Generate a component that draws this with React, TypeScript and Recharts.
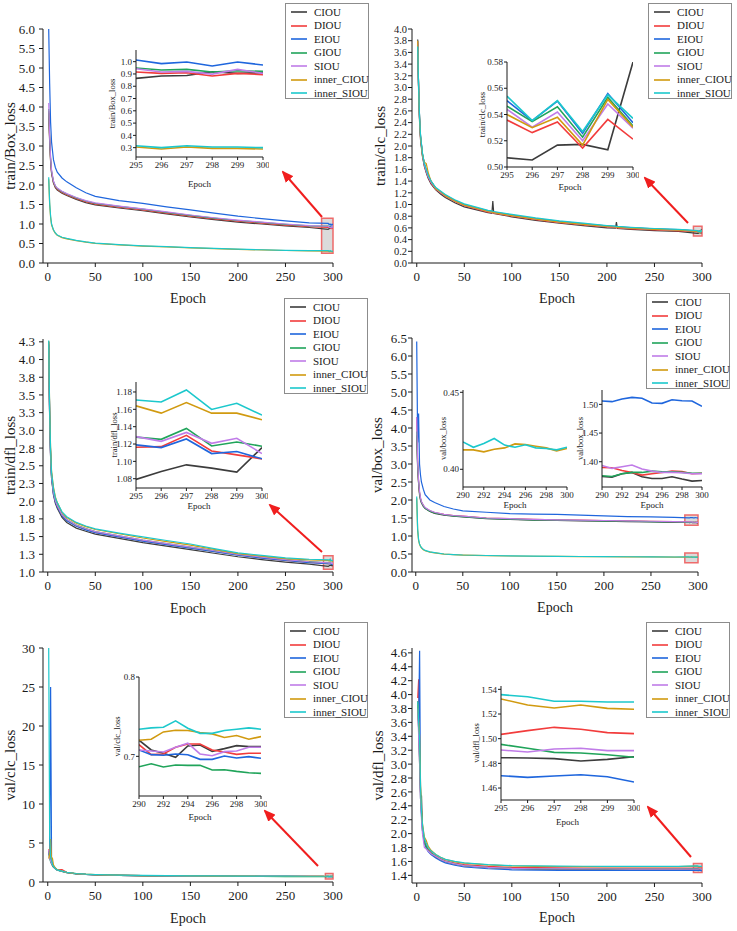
import { LineChart, Line, XAxis, YAxis, ReferenceArea, Label } from "recharts"

const FONT = "'Liberation Serif', 'DejaVu Serif', 'Times New Roman', serif"
const INK = "#1a1a1a"

const lossNames = ["CIOU", "DIOU", "EIOU", "GIOU", "SIOU", "inner_CIOU", "inner_SIOU"]
const lossColors = ["#3c3c3c", "#f23c3c", "#1f66dd", "#20a45a", "#c07ce8", "#d19a10", "#1cc8cc"]

// train/Box_loss
const trainBoxEpochs = [1, 2, 3, 4, 6, 8, 10, 15, 20, 30, 40, 50, 75, 100, 125, 150, 175, 200, 225, 250, 275, 295, 296, 297, 298, 299, 300]
const trainBoxCIOU = [3.85, 3.1, 2.6, 2.3, 2.05, 1.93, 1.87, 1.79, 1.73, 1.63, 1.55, 1.49, 1.41, 1.34, 1.26, 1.18, 1.11, 1.05, 1.0, 0.95, 0.91, 0.864, 0.883, 0.888, 0.918, 0.905, 0.91]
const trainBoxDIOU = [3.9, 3.15, 2.63, 2.33, 2.07, 1.95, 1.89, 1.81, 1.75, 1.65, 1.57, 1.51, 1.43, 1.36, 1.28, 1.2, 1.13, 1.07, 1.02, 0.97, 0.93, 0.916, 0.905, 0.91, 0.883, 0.905, 0.894]
const trainBoxEIOU = [6.0, 4.6, 3.6, 3.1, 2.65, 2.45, 2.33, 2.18, 2.08, 1.93, 1.8, 1.71, 1.6, 1.53, 1.44, 1.36, 1.28, 1.2, 1.14, 1.08, 1.03, 1.014, 0.984, 0.997, 0.965, 0.997, 0.973]
const trainBoxGIOU = [3.95, 3.2, 2.66, 2.35, 2.09, 1.97, 1.91, 1.83, 1.77, 1.67, 1.59, 1.53, 1.45, 1.38, 1.3, 1.22, 1.15, 1.09, 1.04, 0.99, 0.95, 0.948, 0.932, 0.937, 0.916, 0.926, 0.921]
const trainBoxSIOU = [4.1, 3.25, 2.7, 2.38, 2.1, 1.98, 1.92, 1.84, 1.78, 1.68, 1.6, 1.54, 1.46, 1.39, 1.31, 1.23, 1.16, 1.1, 1.05, 1.0, 0.96, 0.943, 0.916, 0.921, 0.899, 0.937, 0.905]
const trainBoxInnerCIOU = [2.15, 1.5, 1.17, 0.98, 0.84, 0.76, 0.71, 0.65, 0.62, 0.57, 0.535, 0.505, 0.465, 0.435, 0.415, 0.39, 0.37, 0.35, 0.335, 0.32, 0.31, 0.305, 0.289, 0.305, 0.294, 0.294, 0.289]
const trainBoxInnerSIOU = [2.2, 1.55, 1.2, 1.0, 0.85, 0.77, 0.72, 0.66, 0.63, 0.58, 0.54, 0.51, 0.47, 0.44, 0.42, 0.395, 0.375, 0.355, 0.34, 0.325, 0.315, 0.316, 0.3, 0.316, 0.305, 0.305, 0.3]

// train/clc_loss
const trainClsEpochs = [1, 2, 3, 4, 6, 8, 10, 12, 15, 20, 25, 30, 40, 50, 75, 79, 80, 81, 100, 125, 150, 175, 200, 209, 210, 211, 225, 250, 275, 295, 296, 297, 298, 299, 300]
const trainClsCIOU = [3.82, 2.9, 2.4, 2.1, 1.82, 1.65, 1.54, 1.45, 1.35, 1.25, 1.18, 1.12, 1.03, 0.96, 0.86, 0.85, 1.06, 0.845, 0.79, 0.73, 0.68, 0.64, 0.6, 0.595, 0.7, 0.59, 0.575, 0.555, 0.54, 0.507, 0.5053, 0.5167, 0.5172, 0.5131, 0.58]
const trainClsDIOU = [3.78, 2.93, 2.43, 2.13, 1.84, 1.67, 1.56, 1.47, 1.37, 1.26, 1.2, 1.14, 1.05, 0.98, 0.87, 0.86, 0.855, 0.85, 0.8, 0.74, 0.69, 0.65, 0.615, 0.605, 0.602, 0.6, 0.585, 0.565, 0.55, 0.5358, 0.5262, 0.5343, 0.5144, 0.5363, 0.5212]
const trainClsEIOU = [3.75, 2.97, 2.47, 2.17, 1.87, 1.7, 1.59, 1.5, 1.4, 1.28, 1.22, 1.16, 1.07, 1.0, 0.89, 0.88, 0.875, 0.87, 0.82, 0.76, 0.71, 0.67, 0.635, 0.625, 0.622, 0.62, 0.605, 0.585, 0.57, 0.5505, 0.5353, 0.5502, 0.5257, 0.556, 0.5338]
const trainClsGIOU = [3.8, 2.96, 2.46, 2.16, 1.86, 1.69, 1.58, 1.49, 1.39, 1.275, 1.215, 1.155, 1.065, 0.995, 0.885, 0.875, 0.87, 0.865, 0.815, 0.755, 0.705, 0.665, 0.63, 0.62, 0.617, 0.615, 0.6, 0.58, 0.565, 0.5464, 0.5346, 0.5459, 0.5227, 0.553, 0.5313]
const trainClsSIOU = [3.8, 2.95, 2.45, 2.15, 1.85, 1.68, 1.57, 1.48, 1.38, 1.27, 1.21, 1.15, 1.06, 0.99, 0.88, 0.87, 0.865, 0.86, 0.81, 0.75, 0.7, 0.66, 0.625, 0.615, 0.612, 0.61, 0.595, 0.575, 0.56, 0.5439, 0.5303, 0.5419, 0.52, 0.548, 0.5295]
const trainClsInnerCIOU = [3.8, 2.95, 2.45, 2.15, 1.85, 1.72, 1.7, 1.55, 1.4, 1.27, 1.22, 1.15, 1.06, 0.99, 0.88, 0.87, 0.865, 0.86, 0.81, 0.75, 0.7, 0.66, 0.625, 0.615, 0.612, 0.61, 0.595, 0.575, 0.56, 0.54, 0.53, 0.5379, 0.5167, 0.5515, 0.5303]
const trainClsInnerSIOU = [3.7, 2.97, 2.48, 2.18, 1.88, 1.7, 1.6, 1.5, 1.4, 1.29, 1.23, 1.17, 1.08, 1.01, 0.9, 0.89, 0.885, 0.88, 0.83, 0.77, 0.72, 0.68, 0.64, 0.63, 0.627, 0.625, 0.61, 0.59, 0.575, 0.554, 0.5353, 0.5505, 0.527, 0.555, 0.537]

// train/dfl_loss
const trainDflEpochs = [1, 2, 3, 4, 6, 8, 10, 15, 20, 30, 40, 50, 75, 100, 125, 150, 175, 200, 225, 250, 275, 295, 296, 297, 298, 299, 300]
const trainDflCIOU = [4.2, 3.15, 2.62, 2.32, 2.09, 1.97, 1.9, 1.77, 1.7, 1.62, 1.575, 1.535, 1.475, 1.415, 1.365, 1.315, 1.265, 1.215, 1.175, 1.14, 1.11, 1.0792, 1.0884, 1.096, 1.0922, 1.0876, 1.1159]
const trainDflDIOU = [4.25, 3.2, 2.65, 2.35, 2.12, 2.0, 1.93, 1.8, 1.73, 1.65, 1.6, 1.56, 1.5, 1.44, 1.39, 1.34, 1.29, 1.24, 1.2, 1.165, 1.135, 1.1163, 1.117, 1.13, 1.112, 1.1075, 1.1029]
const trainDflEIOU = [4.22, 3.18, 2.63, 2.33, 2.1, 1.99, 1.92, 1.795, 1.725, 1.645, 1.595, 1.555, 1.497, 1.437, 1.387, 1.337, 1.287, 1.237, 1.197, 1.162, 1.132, 1.119, 1.1159, 1.1258, 1.109, 1.1113, 1.1029]
const trainDflGIOU = [4.25, 3.22, 2.67, 2.37, 2.14, 2.02, 1.945, 1.812, 1.742, 1.662, 1.612, 1.572, 1.512, 1.452, 1.402, 1.352, 1.302, 1.252, 1.212, 1.177, 1.147, 1.128, 1.1254, 1.138, 1.1178, 1.1224, 1.1174]
const trainDflSIOU = [4.24, 3.2, 2.66, 2.36, 2.13, 2.01, 1.94, 1.81, 1.74, 1.66, 1.61, 1.57, 1.51, 1.45, 1.4, 1.35, 1.3, 1.25, 1.21, 1.175, 1.145, 1.1285, 1.1231, 1.1334, 1.1208, 1.1266, 1.109]
const trainDflInnerCIOU = [4.26, 3.3, 2.75, 2.42, 2.2, 2.06, 1.98, 1.84, 1.77, 1.69, 1.64, 1.6, 1.54, 1.48, 1.43, 1.38, 1.32, 1.26, 1.225, 1.19, 1.17, 1.164, 1.1556, 1.1678, 1.1556, 1.1556, 1.148]
const trainDflInnerSIOU = [4.27, 3.28, 2.72, 2.4, 2.18, 2.05, 1.98, 1.85, 1.78, 1.7, 1.65, 1.61, 1.55, 1.495, 1.445, 1.395, 1.33, 1.27, 1.235, 1.2, 1.18, 1.1708, 1.1685, 1.1823, 1.1598, 1.167, 1.1533]

// val/box_loss
const valBoxEpochs = [1, 2, 3, 4, 5, 6, 8, 10, 15, 20, 30, 40, 50, 75, 100, 125, 150, 175, 200, 225, 250, 275, 290, 291, 292, 293, 294, 295, 296, 297, 298, 299, 300]
const valBoxCIOU = [3.8, 2.9, 2.45, 2.15, 2.0, 1.92, 1.82, 1.76, 1.68, 1.63, 1.58, 1.55, 1.53, 1.48, 1.46, 1.44, 1.43, 1.42, 1.41, 1.4, 1.39, 1.38, 1.3744, 1.3733, 1.379, 1.3814, 1.3738, 1.3709, 1.3709, 1.3738, 1.3698, 1.3663, 1.3674]
const valBoxDIOU = [4.3, 3.0, 2.5, 2.2, 2.05, 1.95, 1.85, 1.78, 1.7, 1.65, 1.6, 1.57, 1.55, 1.5, 1.48, 1.46, 1.45, 1.44, 1.43, 1.42, 1.41, 1.4, 1.3901, 1.3895, 1.3849, 1.3814, 1.3767, 1.379, 1.3814, 1.3837, 1.383, 1.379, 1.38]
const valBoxEIOU = [6.4, 3.6, 4.4, 3.0, 2.7, 2.5, 2.3, 2.15, 2.0, 1.93, 1.82, 1.75, 1.7, 1.66, 1.62, 1.61, 1.6, 1.58, 1.56, 1.54, 1.53, 1.515, 1.5058, 1.5047, 1.5093, 1.5122, 1.5105, 1.5023, 1.5017, 1.5081, 1.5064, 1.5058, 1.4965]
const valBoxGIOU = [3.9, 2.95, 2.5, 2.2, 2.03, 1.94, 1.84, 1.77, 1.69, 1.64, 1.59, 1.56, 1.54, 1.49, 1.47, 1.45, 1.44, 1.43, 1.42, 1.41, 1.4, 1.39, 1.3756, 1.3744, 1.379, 1.3814, 1.3814, 1.3837, 1.3826, 1.3826, 1.3814, 1.38, 1.38]
const valBoxSIOU = [4.3, 3.05, 2.55, 2.25, 2.07, 1.96, 1.86, 1.79, 1.71, 1.66, 1.6, 1.57, 1.55, 1.5, 1.48, 1.46, 1.45, 1.44, 1.43, 1.42, 1.41, 1.4, 1.3936, 1.3884, 1.3913, 1.3942, 1.3872, 1.3837, 1.3814, 1.3814, 1.3808, 1.3791, 1.3791]
const valBoxInnerCIOU = [2.05, 1.15, 0.88, 0.77, 0.71, 0.67, 0.62, 0.59, 0.55, 0.53, 0.495, 0.48, 0.47, 0.455, 0.445, 0.437, 0.432, 0.428, 0.425, 0.421, 0.418, 0.415, 0.4126, 0.4126, 0.4113, 0.413, 0.4139, 0.4165, 0.4161, 0.415, 0.4139, 0.412, 0.4135]
const valBoxInnerSIOU = [2.1, 1.2, 0.9, 0.78, 0.72, 0.68, 0.63, 0.6, 0.56, 0.54, 0.5, 0.485, 0.472, 0.458, 0.448, 0.44, 0.435, 0.43, 0.427, 0.423, 0.42, 0.417, 0.4178, 0.4143, 0.4167, 0.42, 0.4157, 0.4143, 0.4159, 0.4139, 0.4135, 0.4126, 0.4143]

// val/clc_loss
const valClsEpochs = [1, 2, 3, 4, 5, 6, 8, 10, 15, 20, 30, 40, 50, 75, 100, 125, 150, 175, 200, 225, 250, 275, 290, 291, 292, 293, 294, 295, 296, 297, 298, 299, 300]
const valClsCIOU = [4.0, 3.2, 2.8, 2.5, 2.2, 2.0, 1.75, 1.55, 1.38, 1.22, 1.06, 0.98, 0.93, 0.86, 0.81, 0.78, 0.76, 0.745, 0.735, 0.725, 0.72, 0.715, 0.7203, 0.708, 0.7038, 0.6987, 0.7131, 0.7143, 0.7063, 0.7097, 0.7135, 0.7122, 0.7122]
const valClsDIOU = [4.2, 3.3, 2.9, 2.4, 2.1, 1.9, 1.7, 1.55, 1.6, 1.25, 1.06, 0.98, 0.93, 0.86, 0.81, 0.78, 0.76, 0.745, 0.735, 0.725, 0.72, 0.715, 0.7148, 0.7021, 0.703, 0.7114, 0.7156, 0.7156, 0.708, 0.7055, 0.7025, 0.7038, 0.7038]
const valClsEIOU = [3.5, 4.0, 25.0, 3.0, 2.3, 2.0, 1.72, 1.53, 1.37, 1.21, 1.05, 0.97, 0.92, 0.85, 0.8, 0.775, 0.755, 0.74, 0.728, 0.718, 0.712, 0.708, 0.708, 0.7021, 0.7013, 0.703, 0.7021, 0.6962, 0.6962, 0.7004, 0.6979, 0.6996, 0.6975]
const valClsGIOU = [3.8, 3.0, 2.6, 2.3, 2.1, 1.9, 1.7, 1.5, 1.35, 1.2, 1.04, 0.96, 0.91, 0.84, 0.79, 0.765, 0.745, 0.728, 0.716, 0.705, 0.698, 0.692, 0.6869, 0.6907, 0.6865, 0.689, 0.6886, 0.6886, 0.6827, 0.6831, 0.681, 0.6793, 0.6785]
const valClsSIOU = [4.1, 3.1, 2.7, 2.4, 2.2, 2.0, 1.72, 1.54, 1.38, 1.22, 1.06, 0.98, 0.93, 0.86, 0.81, 0.78, 0.76, 0.745, 0.733, 0.723, 0.717, 0.712, 0.708, 0.7068, 0.7055, 0.7114, 0.7165, 0.703, 0.7008, 0.7059, 0.7068, 0.7114, 0.7114]
const valClsInnerCIOU = [3.0, 3.5, 5.5, 2.8, 3.0, 2.2, 1.8, 1.58, 1.4, 1.24, 1.08, 1.0, 0.95, 0.88, 0.83, 0.8, 0.78, 0.765, 0.75, 0.74, 0.733, 0.727, 0.7203, 0.7215, 0.7308, 0.7329, 0.7325, 0.73, 0.7283, 0.7237, 0.7262, 0.7215, 0.7249]
const valClsInnerSIOU = [30.0, 6.0, 3.2, 2.8, 2.2, 2.0, 1.7, 1.55, 1.4, 1.25, 1.09, 1.01, 0.96, 0.89, 0.84, 0.81, 0.79, 0.775, 0.76, 0.75, 0.743, 0.738, 0.7342, 0.7359, 0.7367, 0.7447, 0.7354, 0.729, 0.729, 0.7325, 0.7342, 0.7359, 0.7342]

// val/dfl_loss
const valDflEpochs = [1, 2, 3, 4, 5, 6, 8, 10, 12, 15, 20, 25, 30, 40, 50, 75, 100, 125, 150, 175, 200, 225, 250, 275, 295, 296, 297, 298, 299, 300]
const valDflCIOU = [3.9, 3.5, 3.0, 2.5, 2.55, 2.05, 1.88, 1.81, 1.76, 1.71, 1.66, 1.62, 1.595, 1.56, 1.535, 1.51, 1.495, 1.49, 1.487, 1.486, 1.486, 1.485, 1.485, 1.485, 1.4846, 1.4843, 1.4838, 1.4819, 1.4832, 1.4854]
const valDflDIOU = [3.95, 4.22, 3.2, 2.6, 2.3, 2.1, 1.9, 1.83, 1.78, 1.73, 1.68, 1.64, 1.61, 1.578, 1.555, 1.53, 1.515, 1.51, 1.507, 1.506, 1.505, 1.505, 1.505, 1.505, 1.5035, 1.5065, 1.5092, 1.5076, 1.5049, 1.5041]
const valDflEIOU = [3.9, 3.6, 4.63, 2.5, 2.25, 2.05, 1.86, 1.79, 1.74, 1.7, 1.65, 1.61, 1.58, 1.545, 1.52, 1.495, 1.48, 1.475, 1.472, 1.471, 1.47, 1.47, 1.47, 1.47, 1.47, 1.4686, 1.4697, 1.4708, 1.4692, 1.4649]
const valDflGIOU = [3.85, 3.5, 3.1, 2.6, 2.3, 2.08, 1.88, 1.81, 1.76, 1.72, 1.67, 1.63, 1.6, 1.565, 1.54, 1.515, 1.5, 1.495, 1.493, 1.492, 1.49, 1.49, 1.49, 1.49, 1.4954, 1.4922, 1.4889, 1.4884, 1.487, 1.4849]
const valDflSIOU = [3.8, 3.4, 3.0, 2.5, 2.2, 2.0, 1.8, 1.78, 1.75, 1.71, 1.67, 1.63, 1.6, 1.565, 1.54, 1.515, 1.5, 1.495, 1.493, 1.492, 1.491, 1.491, 1.491, 1.491, 1.4908, 1.4892, 1.4916, 1.4922, 1.4903, 1.4903]
const valDflInnerCIOU = [3.9, 3.6, 3.4, 2.7, 2.35, 2.15, 1.95, 1.9, 1.82, 1.76, 1.7, 1.66, 1.63, 1.595, 1.575, 1.55, 1.535, 1.53, 1.527, 1.526, 1.525, 1.525, 1.525, 1.525, 1.5322, 1.5273, 1.5249, 1.5273, 1.5246, 1.5238]
const valDflInnerSIOU = [3.9, 3.6, 3.35, 2.65, 2.33, 2.13, 1.93, 1.86, 1.8, 1.75, 1.7, 1.66, 1.63, 1.6, 1.58, 1.555, 1.54, 1.535, 1.532, 1.531, 1.53, 1.53, 1.53, 1.53, 1.5357, 1.534, 1.5303, 1.5303, 1.5297, 1.5297]

// tick labels
const epochTicks = [0, 50, 100, 150, 200, 250, 300]
const lastSixTicks = [295, 296, 297, 298, 299, 300]
const lastElevenTicks = [290, 292, 294, 296, 298, 300]
const trainBoxTicks = [0, 0.5, 1, 1.5, 2, 2.5, 3, 3.5, 4, 4.5, 5, 5.5, 6]
const trainClsTicks = [0, 0.2, 0.4, 0.6, 0.8, 1, 1.2, 1.4, 1.6, 1.8, 2, 2.2, 2.4, 2.6, 2.8, 3, 3.2, 3.4, 3.6, 3.8, 4]
const trainDflTicks = [1, 1.25, 1.5, 1.75, 2, 2.25, 2.5, 2.75, 3, 3.25, 3.5, 3.75, 4, 4.25]
const valBoxTicks = [0, 0.5, 1, 1.5, 2, 2.5, 3, 3.5, 4, 4.5, 5, 5.5, 6, 6.5]
const valClsTicks = [0, 5, 10, 15, 20, 25, 30]
const valDflTicks = [1.4, 1.6, 1.8, 2, 2.2, 2.4, 2.6, 2.8, 3, 3.2, 3.4, 3.6, 3.8, 4, 4.2, 4.4, 4.6]
const trainBoxZoomTicks = [0.3, 0.4, 0.5, 0.6, 0.7, 0.8, 0.9, 1.0]
const trainClsZoomTicks = [0.5, 0.52, 0.54, 0.56, 0.58]
const trainDflZoomTicks = [1.08, 1.1, 1.12, 1.14, 1.16, 1.18]
const valBoxInnerZoomTicks = [0.4, 0.45]
const valBoxZoomTicks = [1.4, 1.45, 1.5]
const valClsZoomTicks = [0.7, 0.8]
const valDflZoomTicks = [1.46, 1.48, 1.5, 1.52, 1.54]

type Row = Record<string, number>

function toRows(epochs: number[], series: number[][]): Row[] {
  return epochs.map((epoch, i) => {
    const row: Row = { epoch }
    lossNames.forEach((name, k) => {
      row[name] = series[k][i]
    })
    return row
  })
}

const trainBoxRows = toRows(trainBoxEpochs, [trainBoxCIOU, trainBoxDIOU, trainBoxEIOU, trainBoxGIOU, trainBoxSIOU, trainBoxInnerCIOU, trainBoxInnerSIOU])
const trainClsRows = toRows(trainClsEpochs, [trainClsCIOU, trainClsDIOU, trainClsEIOU, trainClsGIOU, trainClsSIOU, trainClsInnerCIOU, trainClsInnerSIOU])
const trainDflRows = toRows(trainDflEpochs, [trainDflCIOU, trainDflDIOU, trainDflEIOU, trainDflGIOU, trainDflSIOU, trainDflInnerCIOU, trainDflInnerSIOU])
const valBoxRows = toRows(valBoxEpochs, [valBoxCIOU, valBoxDIOU, valBoxEIOU, valBoxGIOU, valBoxSIOU, valBoxInnerCIOU, valBoxInnerSIOU])
const valClsRows = toRows(valClsEpochs, [valClsCIOU, valClsDIOU, valClsEIOU, valClsGIOU, valClsSIOU, valClsInnerCIOU, valClsInnerSIOU])
const valDflRows = toRows(valDflEpochs, [valDflCIOU, valDflDIOU, valDflEIOU, valDflGIOU, valDflSIOU, valDflInnerCIOU, valDflInnerSIOU])

const tail = (rows: Row[], from: number) => rows.filter((r) => r.epoch >= from)

type Rect = { x: number; y: number; w: number; h: number }
type Box = { x1: number; x2: number; y1: number; y2: number }

type FrameProps = {
  outer: Rect
  plot: Rect
  rows: Row[]
  xDomain: [number, number]
  xTicks: number[]
  yDomain: [number, number]
  yTicks: number[]
  digits: number
  yTitle: string
  yTitleX: number
  xTitleBase: number
  inset?: boolean
  names?: string[]
  boxes?: Box[]
  yTickMargin?: number
  yTickSize?: number
}

// one set of axes; plot rect is in page pixels, the chart margins are derived from it
function Frame(p: FrameProps) {
  const { outer, plot, inset } = p
  const margin = {
    top: plot.y - outer.y,
    right: outer.x + outer.w - plot.x - plot.w,
    bottom: 0,
    left: 0,
  }
  const axisW = plot.x - outer.x
  const axisH = outer.y + outer.h - plot.y - plot.h
  const fontSize = inset ? 9 : 13
  const tick = { fill: INK, fontSize, fontFamily: FONT }
  const yTick = { ...tick, fontSize: p.yTickSize ?? fontSize }
  const stroke = { stroke: INK, strokeWidth: 1 }
  const shown = p.names ?? lossNames
  return (
    <div style={{ position: "absolute", left: outer.x, top: outer.y }}>
      <LineChart width={outer.w} height={outer.h} data={p.rows} margin={margin}>
        <XAxis
          dataKey="epoch"
          type="number"
          domain={p.xDomain}
          ticks={p.xTicks}
          interval={0}
          allowDataOverflow
          height={axisH}
          tick={tick}
          axisLine={stroke}
          tickLine={stroke}
          tickSize={inset ? 3 : 4}
          tickMargin={inset ? 2 : 5}
        >
          <Label
            value="Epoch"
            position="insideBottom"
            offset={outer.y + outer.h - p.xTitleBase}
            style={{ fontSize: inset ? 9 : 14, fontFamily: FONT, fill: INK }}
          />
        </XAxis>
        <YAxis
          type="number"
          domain={p.yDomain}
          ticks={p.yTicks}
          interval={0}
          allowDataOverflow
          width={axisW}
          tick={yTick}
          tickFormatter={(v: number) => v.toFixed(p.digits)}
          axisLine={stroke}
          tickLine={stroke}
          tickSize={inset ? 3 : 4}
          tickMargin={p.yTickMargin ?? (inset ? 1 : 4)}
        >
          <Label
            value={p.yTitle}
            angle={-90}
            position="insideLeft"
            offset={p.yTitleX - outer.x}
            style={{ textAnchor: "middle", fontSize: inset ? 8.5 : 15, fontFamily: FONT, fill: INK }}
          />
        </YAxis>
        {lossNames.map((name, k) =>
          shown.includes(name) ? (
            <Line
              key={name}
              dataKey={name}
              type="linear"
              stroke={lossColors[k]}
              strokeWidth={inset ? 1.6 : 1.2}
              dot={false}
              isAnimationActive={false}
            />
          ) : null
        )}
        {(p.boxes ?? []).map((b, i) => (
          <ReferenceArea
            key={i}
            x1={b.x1}
            x2={b.x2}
            y1={b.y1}
            y2={b.y2}
            fill="#bdbdbd"
            fillOpacity={0.55}
            stroke="#ee6b6b"
            strokeWidth={1.5}
          />
        ))}
      </LineChart>
    </div>
  )
}

function LossLegend({ x, y }: { x: number; y: number }) {
  return (
    <div
      style={{
        position: "absolute",
        left: x,
        top: y,
        width: 84,
        height: 96,
        boxSizing: "border-box",
        border: "1px solid #8c8c8c",
        background: "#fff",
        paddingTop: 1.5,
      }}
    >
      {lossNames.map((name, k) => (
        <div key={name} style={{ display: "flex", alignItems: "center", height: 13.5 }}>
          <svg width={16} height={4} style={{ marginLeft: 5, marginRight: 7, flex: "none" }}>
            <line x1={0} y1={2} x2={16} y2={2} stroke={lossColors[k]} strokeWidth={1.6} />
          </svg>
          <span style={{ fontSize: 11, lineHeight: "13.5px", color: "#222", fontFamily: FONT }}>{name}</span>
        </div>
      ))}
    </div>
  )
}

const pointers = [
  { from: [322, 217], to: [283, 172] },
  { from: [688, 223], to: [645, 178] },
  { from: [322, 552], to: [270, 505] },
  { from: [318, 866], to: [265, 811] },
  { from: [691, 857], to: [648, 807] },
]

function Pointers() {
  return (
    <svg width={737} height={931} style={{ position: "absolute", left: 0, top: 0, pointerEvents: "none" }}>
      <defs>
        <marker id="head" markerWidth="12" markerHeight="10" refX="10" refY="5" orient="auto" markerUnits="userSpaceOnUse">
          <path d="M0,0 L12,5 L0,10 z" fill="#f01e1e" />
        </marker>
      </defs>
      {pointers.map((a, i) => (
        <line
          key={i}
          x1={a.from[0]}
          y1={a.from[1]}
          x2={a.to[0]}
          y2={a.to[1]}
          stroke="#f01e1e"
          strokeWidth={2}
          markerEnd="url(#head)"
        />
      ))}
    </svg>
  )
}

export default function App() {
  return (
    <div
      style={{
        position: "absolute",
        left: 0,
        top: 0,
        width: 737,
        height: 931,
        background: "#fff",
        overflow: "hidden",
        fontFamily: FONT,
      }}
    >
      {/* train/Box_loss */}
      <Frame
        outer={{ x: 0, y: 0, w: 370, h: 305 }}
        plot={{ x: 43, y: 29, w: 290, h: 234 }}
        rows={trainBoxRows}
        xDomain={[-5, 300]}
        xTicks={epochTicks}
        yDomain={[0, 6]}
        yTicks={trainBoxTicks}
        digits={1}
        yTitle="train/Box_loss"
        yTitleX={10}
        xTitleBase={303}
        boxes={[{ x1: 288, x2: 300, y1: 0.25, y2: 1.15 }]}
      />
      <Frame
        inset
        outer={{ x: 105, y: 45, w: 164, h: 145 }}
        plot={{ x: 136, y: 50, w: 127, h: 107 }}
        rows={tail(trainBoxRows, 295)}
        xDomain={[295, 300]}
        xTicks={lastSixTicks}
        yDomain={[0.224, 1.095]}
        yTicks={trainBoxZoomTicks}
        digits={1}
        yTitle="train/Box_loss"
        yTitleX={112}
        xTitleBase={187}
      />
      <LossLegend x={285} y={3} />

      {/* train/clc_loss — ticks every 0.2 sit close together, so a smaller face */}
      <Frame
        outer={{ x: 370, y: 0, w: 367, h: 305 }}
        plot={{ x: 412, y: 29, w: 290, h: 234 }}
        rows={trainClsRows}
        xDomain={[-5, 300]}
        xTicks={epochTicks}
        yDomain={[0, 4]}
        yTicks={trainClsTicks}
        digits={1}
        yTitle="train/clc_loss"
        yTitleX={380}
        xTitleBase={303}
        yTickMargin={1}
        yTickSize={10.5}
        boxes={[{ x1: 291, x2: 300, y1: 0.46, y2: 0.63 }]}
      />
      <Frame
        inset
        outer={{ x: 476, y: 56, w: 163, h: 140 }}
        plot={{ x: 507, y: 62, w: 126, h: 105 }}
        rows={tail(trainClsRows, 295)}
        xDomain={[295, 300]}
        xTicks={lastSixTicks}
        yDomain={[0.5, 0.58]}
        yTicks={trainClsZoomTicks}
        digits={2}
        yTitle="train/clc_loss"
        yTitleX={482}
        xTitleBase={190}
      />
      <LossLegend x={648} y={3} />

      {/* train/dfl_loss */}
      <Frame
        outer={{ x: 0, y: 310, w: 370, h: 305 }}
        plot={{ x: 43, y: 339, w: 290, h: 233 }}
        rows={trainDflRows}
        xDomain={[-5, 300]}
        xTicks={epochTicks}
        yDomain={[1, 4.29]}
        yTicks={trainDflTicks}
        digits={1}
        yTitle="train/dfl_loss"
        yTitleX={10}
        xTitleBase={613}
        boxes={[{ x1: 290, x2: 300, y1: 1.04, y2: 1.23 }]}
      />
      <Frame
        inset
        outer={{ x: 108, y: 376, w: 160, h: 136 }}
        plot={{ x: 136, y: 382, w: 126, h: 106 }}
        rows={tail(trainDflRows, 295)}
        xDomain={[295, 300]}
        xTicks={lastSixTicks}
        yDomain={[1.0693, 1.1915]}
        yTicks={trainDflZoomTicks}
        digits={2}
        yTitle="train/dfl_loss"
        yTitleX={114}
        xTitleBase={509}
      />
      <LossLegend x={284} y={298} />

      {/* val/box_loss */}
      <Frame
        outer={{ x: 370, y: 310, w: 367, h: 305 }}
        plot={{ x: 412, y: 338, w: 286, h: 234 }}
        rows={valBoxRows}
        xDomain={[-4, 300]}
        xTicks={epochTicks}
        yDomain={[0, 6.5]}
        yTicks={valBoxTicks}
        digits={1}
        yTitle="val/box_loss"
        yTitleX={377}
        xTitleBase={612}
        yTickMargin={1}
        boxes={[
          { x1: 286, x2: 300, y1: 1.3, y2: 1.58 },
          { x1: 286, x2: 300, y1: 0.26, y2: 0.53 },
        ]}
      />
      <Frame
        inset
        outer={{ x: 437, y: 385, w: 138, h: 127 }}
        plot={{ x: 463, y: 390, w: 104, h: 97 }}
        rows={tail(valBoxRows, 290)}
        xDomain={[290, 300]}
        xTicks={lastElevenTicks}
        yDomain={[0.3885, 0.4515]}
        yTicks={valBoxInnerZoomTicks}
        digits={2}
        yTitle="val/box_loss"
        yTitleX={443}
        xTitleBase={508}
        names={["inner_CIOU", "inner_SIOU"]}
      />
      <Frame
        inset
        outer={{ x: 574, y: 385, w: 150, h: 127 }}
        plot={{ x: 602, y: 390, w: 100, h: 97 }}
        rows={tail(valBoxRows, 290)}
        xDomain={[290, 300]}
        xTicks={lastElevenTicks}
        yDomain={[1.356, 1.525]}
        yTicks={valBoxZoomTicks}
        digits={2}
        yTitle="val/box_loss"
        yTitleX={580}
        xTitleBase={508}
        names={["CIOU", "DIOU", "EIOU", "GIOU", "SIOU"]}
      />
      <LossLegend x={646} y={293} />

      {/* val/clc_loss */}
      <Frame
        outer={{ x: 0, y: 620, w: 370, h: 311 }}
        plot={{ x: 43, y: 648, w: 290, h: 234 }}
        rows={valClsRows}
        xDomain={[-5, 300]}
        xTicks={epochTicks}
        yDomain={[0, 30]}
        yTicks={valClsTicks}
        digits={0}
        yTitle="val/clc_loss"
        yTitleX={10}
        xTitleBase={923}
        boxes={[{ x1: 292, x2: 300, y1: 0.4, y2: 1.1 }]}
      />
      <Frame
        inset
        outer={{ x: 110, y: 672, w: 157, h: 152 }}
        plot={{ x: 139, y: 677, w: 122, h: 119 }}
        rows={tail(valClsRows, 290)}
        xDomain={[290, 300]}
        xTicks={lastElevenTicks}
        yDomain={[0.65, 0.8]}
        yTicks={valClsZoomTicks}
        digits={1}
        yTitle="val/clc_loss"
        yTitleX={117}
        xTitleBase={820}
      />
      <LossLegend x={284} y={622} />

      {/* val/dfl_loss */}
      <Frame
        outer={{ x: 370, y: 620, w: 367, h: 311 }}
        plot={{ x: 412, y: 648, w: 290, h: 235 }}
        rows={valDflRows}
        xDomain={[-5, 300]}
        xTicks={epochTicks}
        yDomain={[1.29, 4.67]}
        yTicks={valDflTicks}
        digits={1}
        yTitle="val/dfl_loss"
        yTitleX={378}
        xTitleBase={922}
        yTickMargin={1}
        boxes={[{ x1: 291, x2: 300, y1: 1.44, y2: 1.57 }]}
      />
      <Frame
        inset
        outer={{ x: 468, y: 680, w: 172, h: 149 }}
        plot={{ x: 501, y: 686, w: 133, h: 114 }}
        rows={tail(valDflRows, 295)}
        xDomain={[295, 300]}
        xTicks={lastSixTicks}
        yDomain={[1.4503, 1.5427]}
        yTicks={valDflZoomTicks}
        digits={2}
        yTitle="val/dfl_loss"
        yTitleX={476}
        xTitleBase={825}
      />
      <LossLegend x={646} y={622} />

      <Pointers />
    </div>
  )
}
